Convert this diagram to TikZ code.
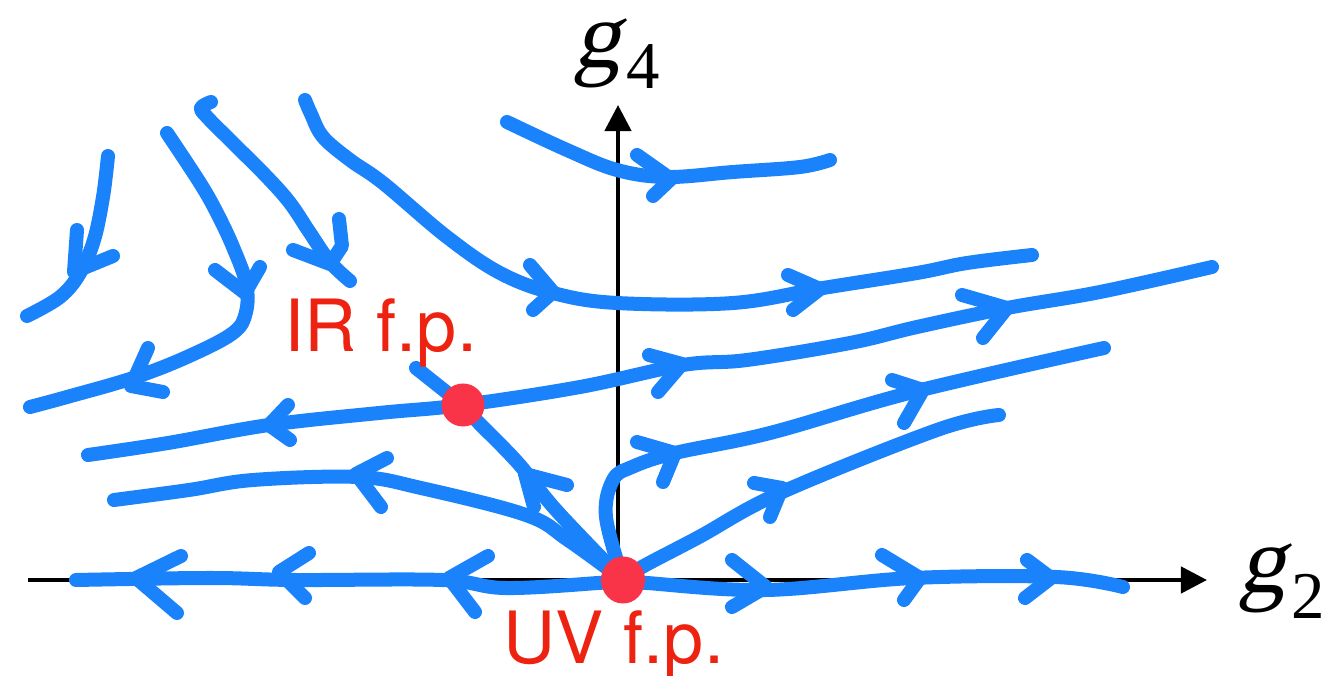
\documentclass[tikz,border=0pt]{standalone}
\usepackage{fontspec}
\usetikzlibrary{arrows.meta,shapes.geometric}
\newfontfamily\labelfont{TeX Gyre Heros}
\newfontfamily\axisfont{Liberation Serif}
\newfontfamily\axisslant[FakeSlant=0.22]{Liberation Serif}
\definecolor{flowblue}{RGB}{26,130,250}
\definecolor{dotred}{RGB}{250,52,72}
\definecolor{txtred}{RGB}{238,34,17}
\begin{document}
\begin{tikzpicture}[x=0.01cm,y=-0.01cm,
  flow/.style={draw=flowblue,line width=0.14cm,line cap=round,line join=round},
  axisline/.style={draw=black,line width=0.045cm,-{Triangle[length=0.26cm,width=0.26cm]}},
  fpdot/.style={fill=dotred,draw=none,ellipse,inner sep=0pt},
  fplabel/.style={text=txtred,font=\labelfont\fontsize{20.5}{20.5}\selectfont,anchor=base west,inner sep=0pt},
  axlabel/.style={font=\axisslant\fontsize{27}{27}\selectfont,anchor=base west,inner sep=0pt}]
\useasboundingbox (0,0) rectangle (1326,676);
% fixed points
\coordinate (IR) at (463,405);
\coordinate (UV) at (623,580);
% axes
\coordinate (xstart) at (28,580);
\coordinate (xend) at (1207,580);
\coordinate (yend) at (618,105);
\coordinate (ystart) at (618,580);
\draw[axisline] (xstart) -- (xend);
\draw[axisline] (ystart) -- (yend);
% A: top-left short
\draw[flow] plot[smooth,tension=0.6] coordinates {(108,156) (103,197) (94,240) (80,273) (60,297) (27,316)};
\draw[flow] (77,230) -- (74,272) -- (113,256);
% B
\draw[flow] plot[smooth,tension=0.6] coordinates {(167,133) (200,183) (217,213) (233,247) (246,283) (246,312) (233,333) (187,357) (133,378) (67,397) (30,407)};
\draw[flow] (215,270) -- (245,293) -- (260,267);
\draw[flow] (148,348) -- (131,386) -- (163,392);
% C
\draw[flow] plot[smooth,tension=0.6] coordinates {(211,102) (201,108) (208,118) (233,143) (267,177) (290,203) (310,233) (330,262) (350,281)};
\draw[flow] (293,250) -- (330,264) -- (342,246) -- (339,219);
% D
\draw[flow] plot[smooth,tension=0.6] coordinates {(305,100) (311,114) (323,137) (350,160) (383,183) (447,237) (500,273) (553,293) (617,303) (733,303) (823,288) (917,273) (967,263) (1032,255)};
\draw[flow] (530,265) -- (553,292) -- (533,310);
\draw[flow] (788,275) -- (820,289) -- (793,310);
% E: top
\draw[flow] plot[smooth,tension=0.6] coordinates {(507,122) (567,150) (617,170) (667,177) (733,172) (800,167) (830,160)};
\draw[flow] (637,155) -- (671,179) -- (653,196);
% F: through IR fixed point
\draw[flow] plot[smooth,tension=0.6] coordinates {(88,455) (168,443) (269,425) (379,413) (IR) (580,387) (683,365) (747,360) (850,343) (917,327) (1007,308) (1100,292) (1212,267)};
\draw[flow] (288,405) -- (269,425) -- (290,440);
\draw[flow] (649,355) -- (682,364) -- (658,392);
\draw[flow] (962,295) -- (1007,308) -- (983,338);
% G: lower left from UV
\draw[flow] plot[smooth,tension=0.6] coordinates {(UV) (568,540) (526,515) (421,488) (358,477) (253,480) (189,490) (114,500)};
\draw[flow] (387,458) -- (356,474) -- (381,507);
% H: separatrix IR - UV
\draw[flow] plot[smooth,tension=0.6] coordinates {(416,368) (450,395) (IR) (476,420) (518,463) (556,510) (UV)};
\draw[flow] (534,507) -- (525,474) -- (567,485);
% I: negative g2 axis
\draw[flow] plot[smooth,tension=0.6] coordinates {(UV) (598,583) (505,588) (442,580) (295,580) (210,578) (76,580)};
\draw[flow] (488,556) -- (449,578) -- (475,612);
\draw[flow] (309,553) -- (279,572) -- (305,598);
\draw[flow] (181,556) -- (136,578) -- (177,613);
% J: positive g2 axis
\draw[flow] plot[smooth,tension=0.6] coordinates {(UV) (647,583) (766,590) (913,578) (1056,577) (1123,587)};
\draw[flow] (732,560) -- (766,587) -- (732,607);
\draw[flow] (882,555) -- (920,578) -- (904,600);
\draw[flow] (1027,560) -- (1051,578) -- (1025,598);
% K: up then right
\draw[flow] plot[smooth,tension=0.6] coordinates {(UV) (606,517) (613,480) (632,467) (675,453) (770,433) (913,392) (1104,348)};
\draw[flow] (637,442) -- (675,453) -- (663,482);
\draw[flow] (892,380) -- (923,390) -- (904,423);
% L: up-right
\draw[flow] plot[smooth,tension=0.6] coordinates {(UV) (642,567) (699,537) (780,493) (937,430) (999,415)};
\draw[flow] (754,483) -- (782,488) -- (770,517);
% dots
\node[fpdot,minimum width=0.43cm,minimum height=0.43cm] (IRdot) at (IR) {};
\node[fpdot,minimum width=0.44cm,minimum height=0.47cm] (UVdot) at (UV) {};
% labels
\node[fplabel] (IRlab) at (284,352) {IR f.p.};
\node[fplabel] (UVlab) at (503,664) {UV f.p.};
\node[axlabel] (g4) at (573,68) {g\kern0.05cm\raisebox{-0.20cm}{\axisfont\fontsize{19}{19}\selectfont 4}};
\node[axlabel] (g2) at (1238,593) {g\kern0.05cm\raisebox{-0.25cm}{\axisfont\fontsize{19}{19}\selectfont 2}};
\end{tikzpicture}
\end{document}
